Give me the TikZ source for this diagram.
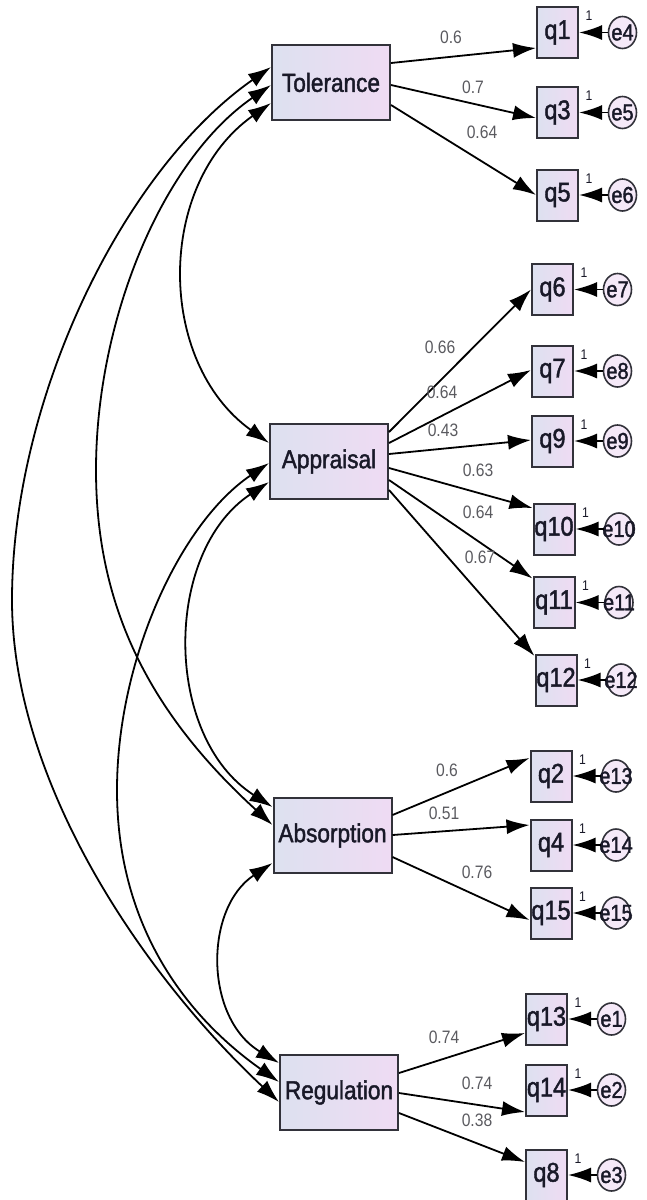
\documentclass[tikz,border=0pt]{standalone}
\usepackage{fontspec}
\setmainfont{Liberation Sans}
\newfontfamily\semfont[FakeStretch=0.87,FakeBold=1.6]{Liberation Sans}
\newfontfamily\numfont[FakeStretch=0.87]{Liberation Sans}
\newcommand*{\ez}[1]{\makebox[0pt]{#1}}
\usetikzlibrary{shapes,arrows.meta}
\definecolor{boxleft}{RGB}{221,225,240}
\definecolor{boxright}{RGB}{239,219,243}
\definecolor{edge}{RGB}{50,50,58}
\definecolor{ink}{RGB}{25,25,40}
\definecolor{loadgray}{RGB}{90,90,95}
\tikzstyle{latent} = [draw=edge, line width=2pt, rectangle, minimum width=118pt, minimum height=75pt, inner sep=0pt, left color=boxleft, right color=boxright, text=ink, font=\semfont\fontsize{26}{28}\selectfont]
\tikzstyle{obs} = [draw=edge, line width=2pt, rectangle, minimum width=41pt, minimum height=51pt, inner sep=0pt, left color=boxleft, right color=boxright, text=ink, font=\semfont\fontsize{27}{29}\selectfont]
\tikzstyle{err} = [draw=edge, line width=1.6pt, ellipse, minimum width=28pt, minimum height=32pt, inner sep=0pt, fill=boxright!60!white, text=ink, font=\semfont\fontsize{23}{25}\selectfont]
\tikzstyle{lbl} = [text=loadgray, inner sep=0pt, font=\numfont\fontsize{18}{20}\selectfont]
\tikzstyle{unit} = [text=ink, inner sep=0pt, pos=0.65, above=11pt, font=\numfont\fontsize{14}{16}\selectfont]

\begin{document}
\begin{tikzpicture}[x=1pt, y=-1pt, node distance=65pt, line width=1.8pt, >={Latex[length=23pt,width=15pt]}]
  \useasboundingbox (0,0) rectangle (646,1200);

  % factors
  \node [latent] (tol) at (331,82.5) {Tolerance};
  \node [latent] (app) at (329,461.5) {Appraisal};
  \node [latent] (abs) at (332.5,835.5) {Absorption};
  \node [latent] (reg) at (339,1092.5) {Regulation};

  % items
  \node [obs] (q1) at (557.5,32.5) {q1};
  \node [obs] (q3) at (557.5,112.5) {q3};
  \node [obs] (q5) at (557.5,195) {q5};
  \node [obs] (q6) at (552.5,289.5) {q6};
  \node [obs] (q7) at (552.5,371) {q7};
  \node [obs] (q9) at (552.5,441) {q9};
  \node [obs] (q10) at (554,529) {q10};
  \node [obs] (q11) at (554,602.5) {q11};
  \node [obs] (q12) at (556,680) {q12};
  \node [obs] (q2) at (551,776) {q2};
  \node [obs] (q4) at (551,845) {q4};
  \node [obs] (q15) at (551,913) {q15};
  \node [obs] (q13) at (546.5,1019) {q13};
  \node [obs] (q14) at (546.5,1090) {q14};
  \node [obs] (q8) at (546.5,1175) {q8};

  % errors
  \node [err, right of=q1] (e4) {\ez{e4}};
  \node [err, right of=q3] (e5) {\ez{e5}};
  \node [err, right of=q5] (e6) {\ez{e6}};
  \node [err, right of=q6] (e7) {\ez{e7}};
  \node [err, right of=q7] (e8) {\ez{e8}};
  \node [err, right of=q9] (e9) {\ez{e9}};
  \node [err, right of=q10] (e10) {\ez{e10}};
  \node [err, right of=q11] (e11) {\ez{e11}};
  \node [err, right of=q12] (e12) {\ez{e12}};
  \node [err, right of=q2] (e13) {\ez{e13}};
  \node [err, right of=q4] (e14) {\ez{e14}};
  \node [err, right of=q15] (e15) {\ez{e15}};
  \node [err, right of=q13] (e1) {\ez{e1}};
  \node [err, right of=q14] (e2) {\ez{e2}};
  \node [err, right of=q8] (e3) {\ez{e3}};

  \draw [->] (e4) -- node [unit] (u4) {1} (q1);
  \draw [->] (e5) -- node [unit] (u5) {1} (q3);
  \draw [->] (e6) -- node [unit] (u6) {1} (q5);
  \draw [->] (e7) -- node [unit] (u7) {1} (q6);
  \draw [->] (e8) -- node [unit] (u8) {1} (q7);
  \draw [->] (e9) -- node [unit] (u9) {1} (q9);
  \draw [->] (e10) -- node [unit] (u10) {1} (q10);
  \draw [->] (e11) -- node [unit] (u11) {1} (q11);
  \draw [->] (e12) -- node [unit] (u12) {1} (q12);
  \draw [->] (e13) -- node [unit] (u13) {1} (q2);
  \draw [->] (e14) -- node [unit] (u14) {1} (q4);
  \draw [->] (e15) -- node [unit] (u15) {1} (q15);
  \draw [->] (e1) -- node [unit] (u1) {1} (q13);
  \draw [->] (e2) -- node [unit] (u2) {1} (q14);
  \draw [->] (e3) -- node [unit] (u3) {1} (q8);

  % loadings
  \draw [->] ([yshift=19.5pt]tol.east) -- ([yshift=-15.5pt]q1.west);
  \draw [->] ([yshift=-2.5pt]tol.east) -- ([yshift=-5.5pt]q3.west);
  \draw [->] ([yshift=-22.5pt]tol.east) -- (q5.west);
  \draw [->] ([yshift=29.5pt]app.east) -- (q6.west);
  \draw [->] ([yshift=18.5pt]app.east) -- ([yshift=1pt]q7.west);
  \draw [->] ([yshift=7.5pt]app.east) -- ([yshift=1pt]q9.west);
  \draw [->] ([yshift=-6.5pt]app.east) -- ([yshift=21pt]q10.west);
  \draw [->] ([yshift=-18.5pt]app.east) -- ([yshift=24pt]q11.west);
  \draw [->] ([yshift=-28.5pt]app.east) -- ([yshift=24pt]q12.west);
  \draw [->] ([yshift=20.5pt]abs.east) -- ([yshift=18pt]q2.west);
  \draw [->] ([yshift=0.5pt]abs.east) -- ([yshift=20pt]q4.west);
  \draw [->] ([yshift=-21.5pt]abs.east) -- ([yshift=-7pt]q15.west);
  \draw [->] ([yshift=19.5pt]reg.east) -- ([yshift=-14pt]q13.west);
  \draw [->] ([yshift=-0.5pt]reg.east) -- ([yshift=-22pt]q14.west);
  \draw [->] ([yshift=-20.5pt]reg.east) -- ([yshift=13pt]q8.west);

  \node [lbl] (w1) at (451,37) {0.6};
  \node [lbl] (w3) at (473,87) {0.7};
  \node [lbl] (w5) at (482,132) {0.64};
  \node [lbl] (w6) at (440,347) {0.66};
  \node [lbl] (w7) at (442,392) {0.64};
  \node [lbl] (w9) at (443,430) {0.43};
  \node [lbl] (w10) at (478,470) {0.63};
  \node [lbl] (w11) at (478,512) {0.64};
  \node [lbl] (w12) at (480,557) {0.67};
  \node [lbl] (w2) at (447,770) {0.6};
  \node [lbl] (w4) at (444,813) {0.51};
  \node [lbl] (w15) at (477,872) {0.76};
  \node [lbl] (w13) at (444,1037) {0.74};
  \node [lbl] (w14) at (477,1083) {0.74};
  \node [lbl] (w8) at (477,1120) {0.38};

  % covariances
  \draw [<->] ([yshift=15.5pt]tol.west) .. controls (122,171) and (12,400) .. (12,600)
              .. controls (12,780) and (140,972) .. ([yshift=-9.5pt]reg.west);
  \draw [<->] ([yshift=-2.5pt]tol.west) .. controls (162,160) and (96,320) .. (96,470)
              .. controls (96,610) and (152,715) .. ([yshift=10.5pt]abs.west);
  \draw [<->] ([yshift=-20.5pt]tol.west) .. controls (156,184) and (156,362) .. ([yshift=18.5pt]app.west);
  \draw [<->] ([yshift=-1.5pt]app.west) .. controls (180,523) and (117,660) .. (117,790)
              .. controls (117,920) and (180,1012) .. ([yshift=10.5pt]reg.west);
  \draw [<->] ([yshift=-20.5pt]app.west) .. controls (163,552) and (163,737) .. ([yshift=28.5pt]abs.west);
  \draw [<->] ([yshift=-27.5pt]abs.west) .. controls (204,908) and (204,1018) .. ([yshift=29.5pt]reg.west);
\end{tikzpicture}
\end{document}
